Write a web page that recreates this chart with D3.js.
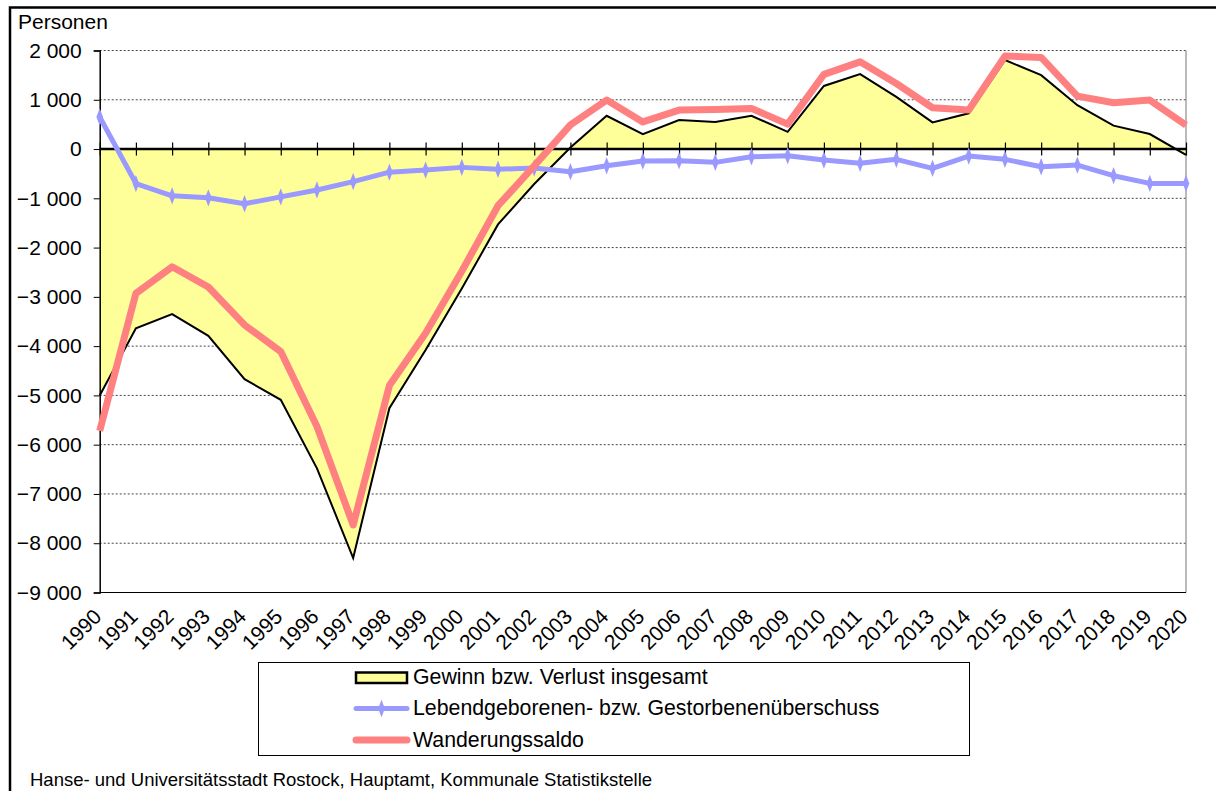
<!DOCTYPE html>
<html>
<head>
<meta charset="utf-8">
<script src="https://cdn.jsdelivr.net/npm/d3@7"></script>
<style>
  body { margin: 0; background: #fff; }
  text { font-family: "Liberation Sans", Arial, sans-serif; fill: #000; }
</style>
</head>
<body>
<script>
// Jahre und Werte (Personen)
const jahre = d3.range(1990, 2021);

const gesamt = [
  -5000, -3640, -3350, -3790, -4670, -5090, -6480, -8300, -5260, -4080,
  -2830, -1530, -710, 30, 675, 300, 590, 550, 675, 350,
  1280, 1520, 1060, 540, 725, 1805, 1500, 890, 475, 305,
  -120
];

const natuerlich = [
  650, -700, -950, -990, -1110, -970, -830, -660, -470, -426,
  -372, -410, -385, -460, -339, -243, -237, -270, -156, -136,
  -223, -290, -209, -392, -142, -209, -359, -325, -541, -697,
  -697
];

const wanderung = [
  -5720, -2930, -2390, -2800, -3570, -4110, -5630, -7630, -4800, -3740,
  -2480, -1150, -340, 490, 995, 550, 790, 805, 825, 505,
  1515, 1770, 1330, 838, 791, 1886, 1860, 1075, 940, 994,
  487
];

const yTicks = [2000, 1000, 0, -1000, -2000, -3000, -4000, -5000, -6000, -7000, -8000, -9000];

const legende = [
  "Gewinn bzw. Verlust insgesamt",
  "Lebendgeborenen- bzw. Gestorbenenüberschuss",
  "Wanderungssaldo"
];

const quelle = "Hanse- und Universitätsstadt Rostock, Hauptamt, Kommunale Statistikstelle";

const fmt = v => d3.format(",")(v).replace(/,/g, " ");

const svg = d3.select("body")
  .append("svg")
  .attr("width", 1216)
  .attr("height", 791);

svg.append("rect").attr("width", 1216).attr("height", 791).attr("fill", "#fff");

// Rahmen um das ganze Diagramm
svg.append("rect")
  .attr("x", 10)
  .attr("y", 7.5)
  .attr("width", 1240)
  .attr("height", 820)
  .attr("fill", "none")
  .attr("stroke", "#000")
  .attr("stroke-width", 2.5);

const x = d3.scaleLinear().domain([1990, 2020]).range([99.7, 1186]);
const y = d3.scaleLinear().domain([-9000, 2000]).range([592.5, 50.5]);

// Gitterlinien
svg.append("g")
  .selectAll("line")
  .data(yTicks.filter(d => d !== 0 && d !== -9000))
  .join("line")
  .attr("x1", x(1990))
  .attr("x2", x(2020))
  .attr("y1", d => y(d))
  .attr("y2", d => y(d))
  .attr("stroke", "#444")
  .attr("stroke-width", 1)
  .attr("stroke-dasharray", "2,2");

// Fläche insgesamt
const rows = jahre.map((j, i) => ({ j, g: gesamt[i], n: natuerlich[i], w: wanderung[i] }));

svg.append("path")
  .datum(rows)
  .attr("d", d3.area().x(d => x(d.j)).y0(y(0)).y1(d => y(d.g)))
  .attr("fill", "#FFFF99");

// Achsen
svg.append("line")
  .attr("x1", x(2020)).attr("x2", x(2020))
  .attr("y1", y(2000)).attr("y2", y(-9000))
  .attr("stroke", "#777").attr("stroke-width", 1);

svg.append("line")
  .attr("x1", x(1990)).attr("x2", x(2020))
  .attr("y1", y(-9000)).attr("y2", y(-9000))
  .attr("stroke", "#000").attr("stroke-width", 1.2);

const yAxis = svg.append("g")
  .attr("transform", `translate(${x(1990)},0)`)
  .call(d3.axisLeft(y).tickValues(yTicks).tickSize(6).tickPadding(12).tickFormat(fmt));
yAxis.select(".domain").attr("stroke-width", 1.5);
yAxis.selectAll("text")
  .style("font-family", "Liberation Sans, Arial, sans-serif")
  .style("font-size", "21px");

const xAxis = svg.append("g")
  .attr("transform", `translate(0,${y(0)})`)
  .call(d3.axisBottom(x).tickValues(jahre).tickSize(13).tickFormat(""));
xAxis.select(".domain").remove();
xAxis.selectAll(".tick line").attr("y1", -6.5).attr("y2", 6.5).attr("stroke-width", 1.2);

svg.append("line")
  .attr("x1", x(1990)).attr("x2", x(2020))
  .attr("y1", y(0)).attr("y2", y(0))
  .attr("stroke", "#000").attr("stroke-width", 2.5);

// Jahreszahlen
svg.append("g")
  .selectAll("text")
  .data(jahre)
  .join("text")
  .attr("transform", d => `translate(${x(d) + 3},618) rotate(-45)`)
  .attr("text-anchor", "end")
  .style("font-size", "21px")
  .text(d => d);

// Linien
svg.append("path")
  .datum(rows)
  .attr("d", d3.line().x(d => x(d.j)).y(d => y(d.g)))
  .attr("fill", "none")
  .attr("stroke", "#000")
  .attr("stroke-width", 2);

svg.append("path")
  .datum(rows)
  .attr("d", d3.line().x(d => x(d.j)).y(d => y(d.n)))
  .attr("fill", "none")
  .attr("stroke", "#9999FF")
  .attr("stroke-width", 5)
  .attr("stroke-linejoin", "round");

svg.append("g")
  .selectAll("path")
  .data(rows)
  .join("path")
  .attr("transform", d => `translate(${x(d.j)},${y(d.n)}) scale(0.8,1.2)`)
  .attr("d", d3.symbol(d3.symbolDiamond, 60))
  .attr("fill", "#9999FF");

svg.append("path")
  .datum(rows)
  .attr("d", d3.line().x(d => x(d.j)).y(d => y(d.w)))
  .attr("fill", "none")
  .attr("stroke", "#FF8080")
  .attr("stroke-width", 7)
  .attr("stroke-linejoin", "round");

// Einheit
svg.append("text")
  .attr("x", 18)
  .attr("y", 28.5)
  .style("font-size", "21px")
  .text("Personen");

// Legende
const leg = svg.append("g");
leg.append("rect")
  .attr("x", 258.5).attr("y", 662.5)
  .attr("width", 711).attr("height", 93)
  .attr("fill", "#fff").attr("stroke", "#000").attr("stroke-width", 1);

leg.append("rect")
  .attr("x", 356).attr("y", 672.5)
  .attr("width", 51).attr("height", 10.5)
  .attr("fill", "#FFFF99").attr("stroke", "#000").attr("stroke-width", 2.5);

leg.append("line")
  .attr("x1", 356).attr("x2", 407).attr("y1", 708.5).attr("y2", 708.5)
  .attr("stroke", "#9999FF").attr("stroke-width", 5).attr("stroke-linecap", "round");
leg.append("path")
  .attr("transform", "translate(381.5,708.5) scale(0.8,1.2)")
  .attr("d", d3.symbol(d3.symbolDiamond, 60))
  .attr("fill", "#9999FF");

leg.append("line")
  .attr("x1", 356).attr("x2", 407).attr("y1", 740).attr("y2", 740)
  .attr("stroke", "#FF8080").attr("stroke-width", 7).attr("stroke-linecap", "round");

leg.selectAll("text.l")
  .data(legende)
  .join("text")
  .attr("class", "l")
  .attr("x", 413)
  .attr("y", (d, i) => 683.5 + i * 31.5)
  .style("font-size", "21.3px")
  .text(d => d);

// Quelle
svg.append("text")
  .attr("x", 30)
  .attr("y", 786)
  .style("font-size", "18.5px")
  .text(quelle);
</script>
</body>
</html>
